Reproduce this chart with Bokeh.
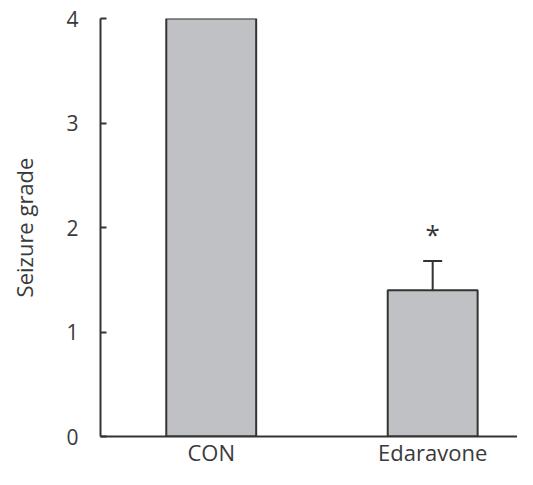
from bokeh.plotting import figure
from bokeh.models import Range1d, FixedTicker, ColumnDataSource, Whisker, TeeHead
from bokeh.core.properties import value
from bokeh.embed import file_html
from bokeh.resources import INLINE

categories = ["CON", "Edaravone"]
means = [4.0, 1.4]
errors = [0.0, 0.28]
y_ticks = [0, 1, 2, 3, 4]

xs = [i + 0.5 for i in range(len(categories))]
FONT = "Open Sans"
TXT = "#3a3a3a"

p = figure(width=517, height=469, output_backend="svg", toolbar_location=None,
           x_range=Range1d(0, 1.883), y_range=Range1d(0, 4),
           min_border_left=100, min_border_top=18, min_border_right=0, min_border_bottom=20)
p.outline_line_color = None
p.xgrid.visible = False
p.ygrid.visible = False
p.background_fill_color = "white"
p.border_fill_color = "white"

src = ColumnDataSource(dict(x=xs, top=means))
p.vbar(x="x", top="top", width=0.406, source=src, fill_color="#c0c1c4",
       line_color="#333333", line_width=2)

ex = [x for x, e in zip(xs, errors) if e > 0]
eb = [m for m, e in zip(means, errors) if e > 0]
eu = [m + e for m, e in zip(means, errors) if e > 0]
esrc = ColumnDataSource(dict(x=ex, base=eb, upper=eu, star=[u + 0.09 for u in eu]))
w = Whisker(source=esrc, base="x", upper="upper", lower="base", dimension="height",
            line_color="#333333", line_width=2,
            upper_head=TeeHead(size=19, line_color="#333333", line_width=2),
            lower_head=None)
p.add_layout(w)
p.text(x="x", y="star", text=value("*"), source=esrc, text_align="center",
       text_baseline="bottom", text_font=value(FONT), text_font_size="26px",
       text_color="#333333")

# y axis
ya = p.yaxis[0]
ya.ticker = FixedTicker(ticks=y_ticks)
ya.major_tick_in = 6
ya.major_tick_out = 0
ya.minor_tick_line_color = None
ya.axis_line_color = "#333333"
ya.axis_line_width = 2
ya.major_tick_line_color = "#333333"
ya.major_tick_line_width = 2
ya.major_label_text_font = FONT
ya.major_label_text_font_size = "21px"
ya.major_label_text_color = TXT
ya.major_label_standoff = 22
ya.axis_label = "Seizure grade"
ya.axis_label_text_font = FONT
ya.axis_label_text_font_size = "22px"
ya.axis_label_text_font_style = "normal"
ya.axis_label_text_color = TXT
ya.axis_label_standoff = 24

# x axis
xa = p.xaxis[0]
xa.ticker = FixedTicker(ticks=xs)
xa.major_label_overrides = {x: c for x, c in zip(xs, categories)}
xa.major_tick_out = 0
xa.major_tick_in = 0
xa.major_tick_line_color = None
xa.minor_tick_line_color = None
xa.axis_line_color = "#333333"
xa.axis_line_width = 2
xa.major_label_text_font = FONT
xa.major_label_text_font_size = "22px"
xa.major_label_text_color = TXT
xa.major_label_standoff = 0

open("out.html", "w").write(file_html(p, INLINE))
